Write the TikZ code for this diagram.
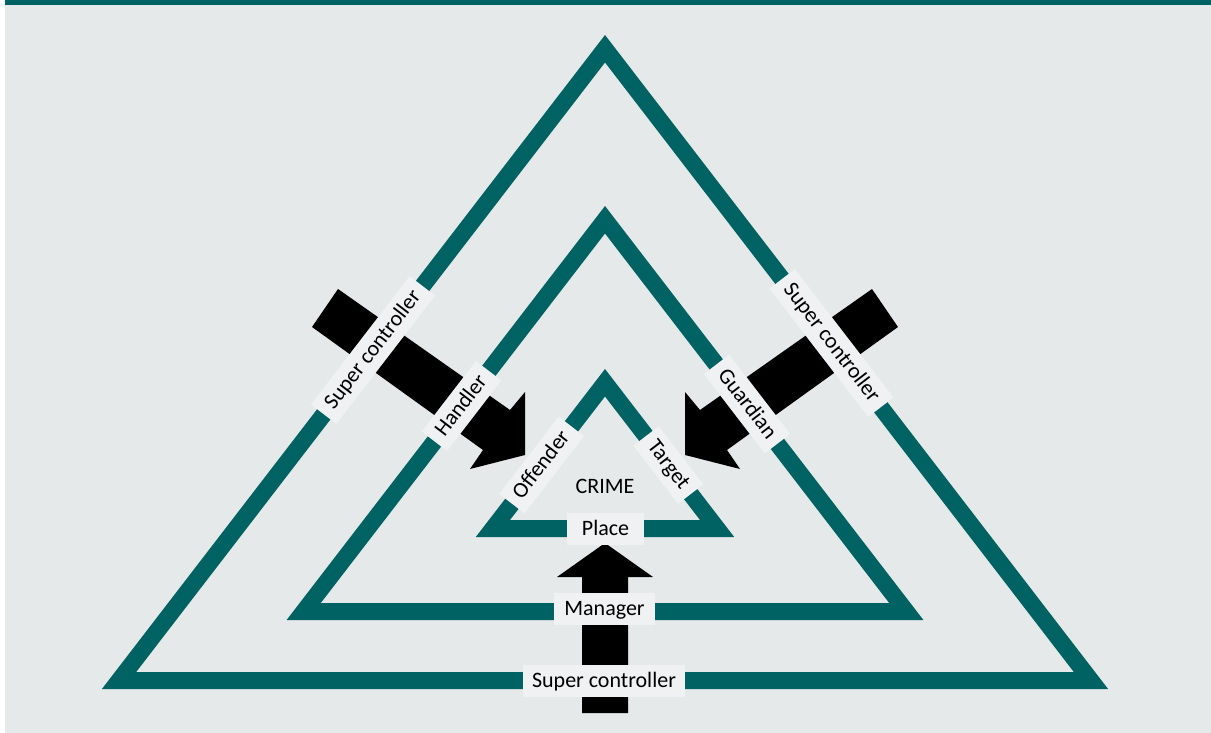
\documentclass[tikz,border=0pt]{standalone}
\usepackage{fontspec}
\setmainfont{Carlito}
\definecolor{teal0}{RGB}{0,98,98}
\definecolor{bg}{RGB}{229,233,234}
\definecolor{lab}{RGB}{239,241,242}
\tikzset{
  lbl/.style={fill=lab, inner xsep=9pt, inner ysep=0pt, minimum height=32pt,
    text height=16pt, text depth=4pt, font=\fontsize{22}{26}\selectfont},
  ring/.style={fill=teal0, even odd rule},
  blk/.style={fill=black}
}
\begin{document}
\begin{tikzpicture}[x=1pt,y=-1pt]
\useasboundingbox (0,0) rectangle (1211,733);
\fill[white] (0,0) rectangle (1211,733);
\fill[bg] (5,5) rectangle (1211,733);
\fill[teal0] (5,0) rectangle (1211,5);
% triangles
\fill[ring] (605,35) -- (101.9,689) -- (1108.1,689) -- cycle
            (605,62.5) -- (136.2,672) -- (1073.8,672) -- cycle;
\fill[ring] (605,206) -- (286.6,620) -- (923.4,620) -- cycle
            (605,233.5) -- (320.8,603) -- (889.2,603) -- cycle;
\fill[ring] (605,369) -- (475.8,537) -- (734.2,537) -- cycle
            (605,396.5) -- (510,520) -- (700,520) -- cycle;
% arrows
\fill[blk] (338,289) -- (510,410) -- (525,392) -- (525,455) -- (470,469) -- (483,450) -- (312,327) -- cycle;
\fill[blk] (872,289) -- (700,410) -- (685,392) -- (685,455) -- (740,469) -- (727,450) -- (898,327) -- cycle;
\fill[blk] (582,713) -- (628,713) -- (628,577) -- (653,577) -- (605,543) -- (557,577) -- (582,577) -- cycle;
% labels
\node[lbl, rotate=52.44] (scL) at (373,350) {Super controller};
\node[lbl, rotate=-52.44] (scR) at (831.5,343) {Super controller};
\node[lbl, rotate=52.44] (handler) at (461.5,406) {Handler};
\node[lbl, rotate=-52.44] (guardian) at (747,404) {Guardian};
\node[lbl, rotate=52.44] (offender) at (541.6,465) {Offender};
\node[lbl, rotate=-52.44] (target) at (668.4,465) {Target};
\node[lbl] (scB) at (604,681) {Super controller};
\node[lbl, inner xsep=10pt] (manager) at (604.5,609) {Manager};
\node[lbl, minimum width=77pt] (place) at (605.5,529) {Place};
\node[font=\fontsize{22}{26}\selectfont, inner sep=0pt, text height=16pt, text depth=4pt] (crime) at (605,487) {CRIME};
\end{tikzpicture}
\end{document}
